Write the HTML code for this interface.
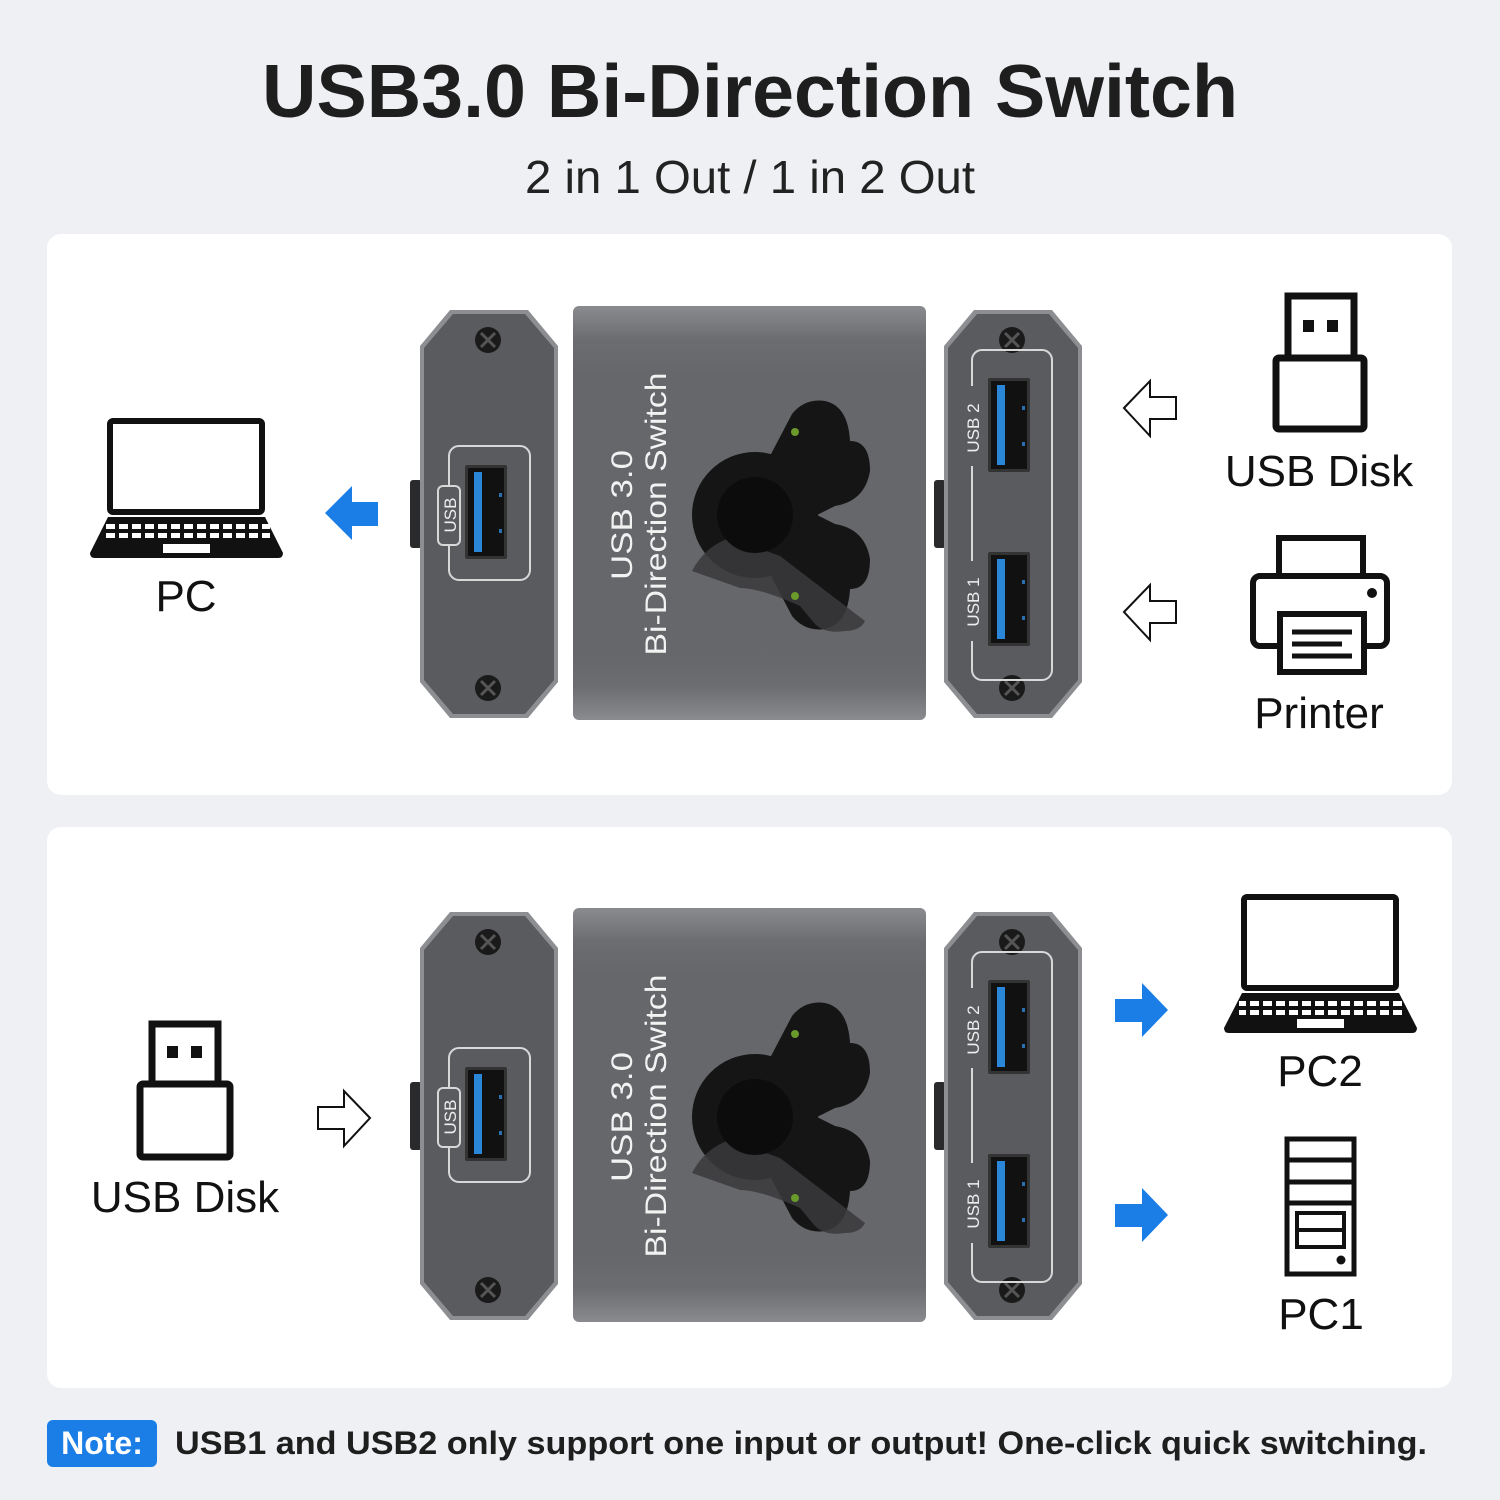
<!DOCTYPE html>
<html><head><meta charset="utf-8"><style>
html,body{margin:0;padding:0;background:#eef0f4;}
svg{display:block;}
text{font-family:"Liberation Sans",sans-serif;}
</style></head><body>
<svg width="1500" height="1500" viewBox="0 0 1500 1500" xmlns="http://www.w3.org/2000/svg">
<defs>
<linearGradient id="body" x1="0" y1="0" x2="0" y2="1">
<stop offset="0" stop-color="#8a8b8f"/><stop offset="0.08" stop-color="#6c6d71"/><stop offset="0.16" stop-color="#66676b"/><stop offset="0.84" stop-color="#66676b"/><stop offset="0.92" stop-color="#6c6d71"/><stop offset="1" stop-color="#8a8b8f"/>
</linearGradient>
<pattern id="kb" x="0" y="0" width="13" height="9" patternUnits="userSpaceOnUse"><rect x="2" y="2" width="9" height="5" fill="#fff"/></pattern>
<g id="plate">
<polygon points="30,4 108,4 138,40 138,376 108,412 30,412 0,376 0,40" fill="#8d8e92"/>
<polygon points="33,8 105,8 134,42 134,374 105,408 33,408 4,374 4,42" fill="#5a5b5f"/>
<circle cx="68" cy="34" r="13" fill="#1a1a1a"/><path d="M61 27 L75 41 M75 27 L61 41" stroke="#555" stroke-width="3"/>
<circle cx="68" cy="382" r="13" fill="#1a1a1a"/><path d="M61 375 L75 389 M75 375 L61 389" stroke="#555" stroke-width="3"/>
</g>
<g id="port">
<rect x="0" y="0" width="42" height="94" fill="#333" rx="2"/><rect x="3" y="3" width="36" height="88" fill="#111"/>
<rect x="9" y="7" width="8" height="80" fill="#2a86d6"/>
<rect x="34" y="28" width="3" height="4" fill="#2a6fb0"/><rect x="34" y="64" width="3" height="4" fill="#2a6fb0"/>
</g>
<g id="dev">
<rect x="-10" y="174" width="12" height="68" rx="3" fill="#2a2a2c"/>
<use href="#plate" x="0" y="0"/>
<rect x="29" y="140" width="81" height="134" rx="10" fill="none" stroke="#d8d8d8" stroke-width="2"/>
<rect x="18" y="180" width="22" height="59" rx="5" fill="#5a5b5f" stroke="#d8d8d8" stroke-width="2"/>
<use href="#port" x="45" y="159"/>
<rect x="153" y="0" width="353" height="414" rx="6" fill="url(#body)"/>
<rect x="514" y="174" width="12" height="68" rx="3" fill="#2a2a2c"/>
<use href="#plate" x="524" y="0"/>
<rect x="552" y="44" width="80" height="330" rx="10" fill="none" stroke="#d8d8d8" stroke-width="2"/>
<rect x="544" y="80" width="16" height="80" fill="#5a5b5f"/>
<rect x="544" y="255" width="16" height="80" fill="#5a5b5f"/>
<use href="#port" x="568" y="72"/>
<use href="#port" x="568" y="246"/>
<g fill="#151515">
<circle cx="335" cy="209" r="63"/>
<path d="M350 150 L372 108 Q385 92 405 95 Q428 100 430 135 Q450 135 450 165 Q445 195 415 200 L395 210 Z"/>
<path d="M350 268 L372 310 Q385 326 405 323 Q428 318 430 283 Q450 283 450 253 Q445 223 415 218 L395 208 Z"/>
</g>
<path d="M272 265 Q285 240 310 232 L360 250 L445 315 Q440 325 425 325 Q405 328 395 318 L380 300 Q340 282 320 282 Z" fill="#3a3a3c" opacity="0.85"/>
<circle cx="335" cy="209" r="38" fill="#0c0c0c"/>
<circle cx="375" cy="126" r="4" fill="#6a9a2a"/>
<circle cx="375" cy="290" r="4" fill="#6a9a2a"/>
</g>
</defs>

<text x="750" y="117" text-anchor="middle" font-size="75" font-weight="bold" fill="#1e1e1e" textLength="976" lengthAdjust="spacingAndGlyphs">USB3.0 Bi-Direction Switch</text>
<text x="750" y="193" text-anchor="middle" font-size="46" fill="#222" textLength="450" lengthAdjust="spacingAndGlyphs">2 in 1 Out / 1 in 2 Out</text>

<rect x="47" y="234" width="1405" height="561" rx="14" fill="#fff"/>
<rect x="47" y="827" width="1405" height="561" rx="14" fill="#fff"/>

<use href="#dev" x="420" y="306"/>
<text transform="translate(632,515) rotate(-90)" text-anchor="middle" font-size="30" fill="#f2f2f2" textLength="130" lengthAdjust="spacingAndGlyphs">USB  3.0</text>
<text transform="translate(666,514) rotate(-90)" text-anchor="middle" font-size="30" fill="#f2f2f2" textLength="283" lengthAdjust="spacingAndGlyphs">Bi-Direction Switch</text>
<text transform="translate(456,515) rotate(-90)" text-anchor="middle" font-size="17" fill="#eee">USB</text>
<text transform="translate(979,428) rotate(-90)" text-anchor="middle" font-size="17" fill="#eee">USB 2</text>
<text transform="translate(979,602) rotate(-90)" text-anchor="middle" font-size="17" fill="#eee">USB 1</text>

<use href="#dev" x="420" y="908"/>
<text transform="translate(632,1117) rotate(-90)" text-anchor="middle" font-size="30" fill="#f2f2f2" textLength="130" lengthAdjust="spacingAndGlyphs">USB  3.0</text>
<text transform="translate(666,1116) rotate(-90)" text-anchor="middle" font-size="30" fill="#f2f2f2" textLength="283" lengthAdjust="spacingAndGlyphs">Bi-Direction Switch</text>
<text transform="translate(456,1117) rotate(-90)" text-anchor="middle" font-size="17" fill="#eee">USB</text>
<text transform="translate(979,1030) rotate(-90)" text-anchor="middle" font-size="17" fill="#eee">USB 2</text>
<text transform="translate(979,1204) rotate(-90)" text-anchor="middle" font-size="17" fill="#eee">USB 1</text>

<g>
<rect x="110" y="421" width="152" height="91" rx="3" fill="none" stroke="#111" stroke-width="6"/>
<path d="M108 517 L265 517 L283 553 Q283 558 278 558 L95 558 Q90 558 90 553 Z" fill="#111"/>
<rect x="105" y="521" width="165" height="20" fill="url(#kb)"/>
<rect x="163" y="544" width="47" height="9" fill="#fff"/>
</g>
<text x="186" y="611" text-anchor="middle" font-size="44" fill="#111">PC</text>
<polygon points="325,513 352,486 352,502 378,502 378,526 352,526 352,540" fill="#1a7ee6"/>

<polygon points="1124,408 1150,381 1150,397 1176,397 1176,419 1150,419 1150,436" fill="#fff" stroke="#111" stroke-width="2"/>
<polygon points="1124,612 1150,585 1150,601 1176,601 1176,623 1150,623 1150,640" fill="#fff" stroke="#111" stroke-width="2"/>

<rect x="1288" y="296" width="66" height="66" fill="#fff" stroke="#111" stroke-width="7"/>
<rect x="1303" y="320" width="11" height="12" fill="#111"/><rect x="1327" y="320" width="11" height="12" fill="#111"/>
<rect x="1276" y="358" width="88" height="71" rx="3" fill="#fff" stroke="#111" stroke-width="7"/>
<text x="1319" y="486" text-anchor="middle" font-size="44" fill="#111">USB Disk</text>

<rect x="1279" y="538" width="84" height="42" fill="#fff" stroke="#111" stroke-width="6"/>
<rect x="1253" y="576" width="134" height="70" rx="7" fill="#fff" stroke="#111" stroke-width="6"/>
<circle cx="1372" cy="593" r="5" fill="#111"/>
<rect x="1280" y="614" width="84" height="58" fill="#fff" stroke="#111" stroke-width="6"/>
<path d="M1292 632 H1352 M1292 644 H1342 M1292 656 H1352" stroke="#111" stroke-width="5"/>
<text x="1319" y="728" text-anchor="middle" font-size="44" fill="#111">Printer</text>

<rect x="152" y="1024" width="66" height="60" fill="#fff" stroke="#111" stroke-width="7"/>
<rect x="167" y="1046" width="11" height="12" fill="#111"/><rect x="191" y="1046" width="11" height="12" fill="#111"/>
<rect x="140" y="1084" width="90" height="73" rx="3" fill="#fff" stroke="#111" stroke-width="7"/>
<text x="185" y="1212" text-anchor="middle" font-size="44" fill="#111">USB Disk</text>
<polygon points="370,1118 344,1091 344,1107 318,1107 318,1129 344,1129 344,1146" fill="#fff" stroke="#111" stroke-width="2"/>

<polygon points="1168,1010 1142,983 1142,999 1115,999 1115,1022 1142,1022 1142,1037" fill="#1a7ee6"/>
<polygon points="1168,1215 1142,1188 1142,1204 1115,1204 1115,1227 1142,1227 1142,1242" fill="#1a7ee6"/>

<rect x="1244" y="897" width="152" height="91" rx="3" fill="none" stroke="#111" stroke-width="6"/>
<path d="M1242 993 L1399 993 L1417 1028 Q1417 1033 1412 1033 L1229 1033 Q1224 1033 1224 1028 Z" fill="#111"/>
<rect x="1239" y="997" width="165" height="20" fill="url(#kb)"/>
<rect x="1297" y="1019" width="47" height="9" fill="#fff"/>
<text x="1320" y="1086" text-anchor="middle" font-size="44" fill="#111">PC2</text>

<rect x="1287" y="1139" width="67" height="135" fill="#fff" stroke="#111" stroke-width="5"/>
<path d="M1287 1160 H1354 M1287 1182 H1354 M1287 1203 H1354" stroke="#111" stroke-width="5"/>
<rect x="1297" y="1213" width="47" height="34" fill="none" stroke="#111" stroke-width="4"/>
<path d="M1297 1230 H1344" stroke="#111" stroke-width="4"/>
<circle cx="1341" cy="1260" r="4.5" fill="#111"/>
<text x="1321" y="1329" text-anchor="middle" font-size="44" fill="#111">PC1</text>

<rect x="47" y="1420" width="110" height="47" rx="6" fill="#1a7ee6"/>
<text x="102" y="1454" text-anchor="middle" font-size="32" font-weight="bold" fill="#fff">Note:</text>
<text x="175" y="1454" font-size="32" font-weight="bold" fill="#1e1e1e" textLength="1252" lengthAdjust="spacingAndGlyphs">USB1 and USB2 only support one input or output!  One-click quick switching.</text>
</svg>
</body></html>
